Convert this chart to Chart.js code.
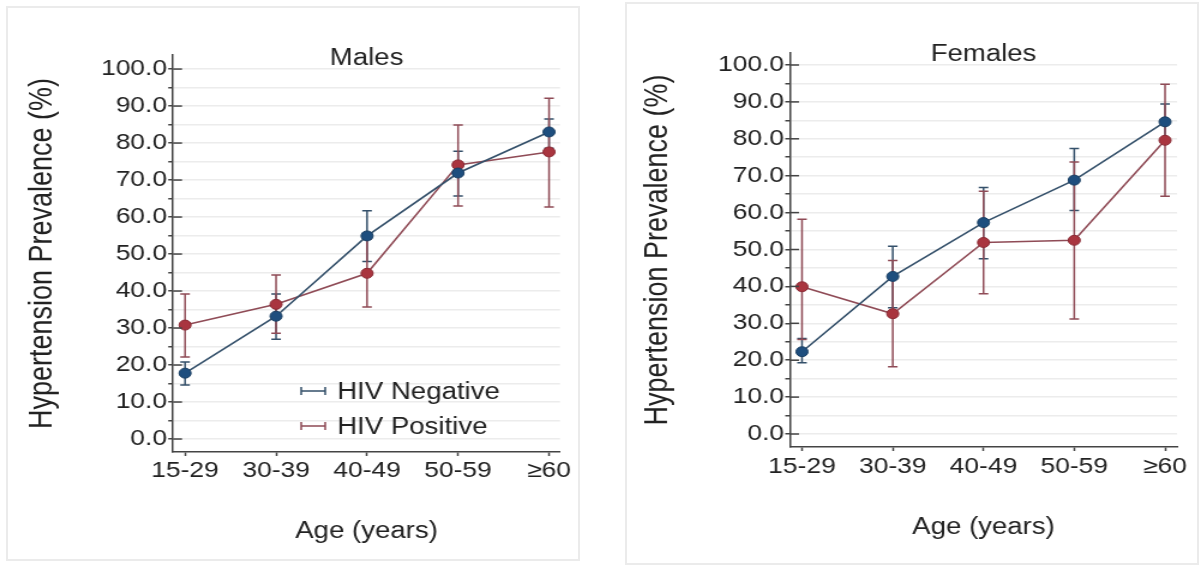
<!DOCTYPE html>
<html>
<head>
<meta charset="utf-8">
<script src="https://cdn.jsdelivr.net/npm/chart.js@4.4.0/dist/chart.umd.min.js"></script>
<style>
html, body { margin: 0; padding: 0; background: #fff; width: 1202px; height: 566px; overflow: hidden; }
.panel { position: absolute; border: 2px solid #ebebeb; box-sizing: border-box; }
canvas { position: absolute; top: 0; transform-origin: 0 0; transform: scaleX(1.2); }
</style>
</head>
<body>
<div class="panel" style="left:6px;top:6px;width:574px;height:555px"></div>
<div class="panel" style="left:625px;top:2px;width:574px;height:563px"></div>
<canvas id="males" width="500" height="566" style="left:0px"></canvas>
<canvas id="females" width="501" height="566" style="left:601px"></canvas>
<script>
var ageGroups = ['15-29', '30-39', '40-49', '50-59', '\u226560'];
var seriesNames = ['HIV Negative', 'HIV Positive'];

// males
var maleNeg = [17.8, 33.2, 54.9, 71.9, 83.0];
var maleNegLow = [14.6, 27.0, 48.0, 65.7, 78.6];
var maleNegHigh = [20.8, 39.2, 61.7, 77.8, 86.5];
var malePos = [30.8, 36.4, 44.8, 74.1, 77.6];
var malePosLow = [22.2, 28.6, 35.7, 63.0, 62.7];
var malePosHigh = [39.2, 44.3, 54.0, 84.9, 92.1];

// females
var femaleNeg = [22.3, 42.7, 57.3, 68.8, 84.6];
var femaleNegLow = [19.3, 34.2, 47.5, 60.6, 79.3];
var femaleNegHigh = [25.9, 50.9, 66.8, 77.4, 89.4];
var femalePos = [39.9, 32.6, 51.9, 52.5, 79.6];
var femalePosLow = [25.6, 18.2, 38.0, 31.2, 64.4];
var femalePosHigh = [58.2, 47.0, 65.8, 73.7, 94.8];

var FONT = '"Liberation Sans", Arial, sans-serif';
Chart.defaults.font.family = FONT;
Chart.defaults.color = '#222';

var negLine = '#34506a', negPoint = '#1e4e7e';
var posLine = '#8f4b56', posPoint = '#a9353f';

function points(values) {
    return values.map(function (v, i) { return { x: i, y: v }; });
}

var errorBars = {
    id: 'errorBars',
    beforeDatasetsDraw: function (chart) {
        var ctx = chart.ctx, xs = chart.scales.x, ys = chart.scales.y;
        chart.data.datasets.forEach(function (ds) {
            ctx.save();
            ctx.strokeStyle = ds.borderColor;
            ctx.lineWidth = 1.5;
            ds.errLow.forEach(function (lo, i) {
                var px = xs.getPixelForValue(i);
                var top = ys.getPixelForValue(ds.errHigh[i]);
                var bot = ys.getPixelForValue(lo);
                ctx.beginPath();
                ctx.moveTo(px, top); ctx.lineTo(px, bot);
                ctx.moveTo(px - 4, top); ctx.lineTo(px + 4, top);
                ctx.moveTo(px - 4, bot); ctx.lineTo(px + 4, bot);
                ctx.stroke();
            });
            ctx.restore();
        });
    }
};

var decorations = {
    id: 'decorations',
    afterDraw: function (chart, args, opts) {
        var ctx = chart.ctx, ys = chart.scales.y, area = chart.chartArea;
        ctx.save();
        // major ticks cross into the plot
        ctx.strokeStyle = '#444';
        ctx.lineWidth = 1.5;
        ys.ticks.forEach(function (t) {
            if (t.value % 10 !== 0) return;
            var py = ys.getPixelForValue(t.value);
            ctx.beginPath();
            ctx.moveTo(area.left, py);
            ctx.lineTo(area.left + 7.5, py);
            ctx.stroke();
        });
        ctx.fillStyle = '#222';
        ctx.font = '23px ' + FONT;
        ctx.textAlign = 'center';
        ctx.textBaseline = 'alphabetic';
        ctx.fillText(opts.title, (area.left + area.right) / 2, opts.titleY);
        if (opts.legend) {
            ctx.textAlign = 'left';
            chart.data.datasets.forEach(function (ds, k) {
                var cy = opts.legendY[k];
                var x0 = opts.legendX, x1 = opts.legendX + 20;
                ctx.strokeStyle = ds.borderColor;
                ctx.lineWidth = 1.5;
                ctx.beginPath();
                ctx.moveTo(x0, cy); ctx.lineTo(x1, cy);
                ctx.moveTo(x0, cy - 4); ctx.lineTo(x0, cy + 4);
                ctx.moveTo(x1, cy - 4); ctx.lineTo(x1, cy + 4);
                ctx.stroke();
                ctx.fillStyle = '#222';
                ctx.fillText(ds.label, opts.legendX + 30, cy + 8);
            });
        }
        ctx.restore();
    }
};

function makeChart(id, g, neg, negLow, negHigh, pos, posLow, posHigh) {
    return new Chart(document.getElementById(id), {
        type: 'line',
        data: {
            datasets: [{
                label: seriesNames[0],
                data: points(neg),
                errLow: negLow,
                errHigh: negHigh,
                borderColor: negLine,
                borderWidth: 1.6,
                pointBackgroundColor: negPoint,
                pointBorderColor: '#1a3f63',
                pointBorderWidth: 1,
                pointRadius: 5,
                tension: 0
            }, {
                label: seriesNames[1],
                data: points(pos),
                errLow: posLow,
                errHigh: posHigh,
                borderColor: posLine,
                borderWidth: 1.6,
                pointBackgroundColor: posPoint,
                pointBorderColor: '#8a2a34',
                pointBorderWidth: 1,
                pointRadius: 5,
                tension: 0
            }]
        },
        plugins: [errorBars, decorations],
        options: {
            responsive: false,
            animation: false,
            events: [],
            layout: { padding: { left: 0, top: g.top, right: g.right, bottom: 0 } },
            scales: {
                x: {
                    type: 'linear',
                    min: g.xMin,
                    max: g.xMax,
                    afterFit: function (s) { s.height = g.xHeight; },
                    border: { color: '#444', width: 1.5 },
                    grid: { drawOnChartArea: false, tickLength: 4, tickColor: '#444', tickWidth: 1.5 },
                    ticks: {
                        stepSize: 1,
                        includeBounds: false,
                        autoSkip: false,
                        maxRotation: 0,
                        padding: g.xTickPad,
                        font: { size: 22 },
                        callback: function (v) { return ageGroups[v]; }
                    },
                    title: {
                        display: true,
                        text: 'Age (years)',
                        font: { size: 23 },
                        padding: { top: 0, bottom: g.xTitlePad }
                    }
                },
                y: {
                    min: g.yMin,
                    max: g.yMax,
                    afterFit: function (s) { s.width = g.yWidth; },
                    border: { color: '#444', width: 1.5 },
                    grid: { color: '#ececec', lineWidth: 1.5, tickLength: 4, tickColor: '#444', tickWidth: 1.5 },
                    ticks: {
                        stepSize: 5,
                        includeBounds: false,
                        autoSkip: false,
                        padding: 1,
                        font: { size: 22 },
                        callback: function (v) { return v % 10 === 0 ? v.toFixed(1) : ''; }
                    },
                    title: {
                        display: true,
                        text: 'Hypertension Prevalence (%)',
                        font: { size: 27 },
                        padding: { top: g.yTitlePad, bottom: 0 }
                    }
                }
            },
            plugins: {
                legend: { display: false },
                tooltip: { enabled: false },
                decorations: g.deco
            }
        }
    });
}

makeChart('males', {
    top: 55, right: 33.3, xHeight: 114, yWidth: 144.2,
    xMin: -0.132, xMax: 4.121, yMin: -3.51, yMax: 103.8,
    xTickPad: 2, xTitlePad: 21, yTitlePad: 19,
    deco: { title: 'Males', titleY: 65, legend: true, legendX: 251, legendY: [391, 426] }
}, maleNeg, maleNegLow, maleNegHigh, malePos, malePosLow, malePosHigh);

makeChart('females', {
    top: 53, right: 21, xHeight: 119, yWidth: 157.5,
    xMin: -0.132, xMax: 4.132, yMin: -3.52, yMax: 103.25,
    xTickPad: 3, xTitlePad: 25, yTitlePad: 31.7,
    deco: { title: 'Females', titleY: 61, legend: false }
}, femaleNeg, femaleNegLow, femaleNegHigh, femalePos, femalePosLow, femalePosHigh);
</script>
</body>
</html>
